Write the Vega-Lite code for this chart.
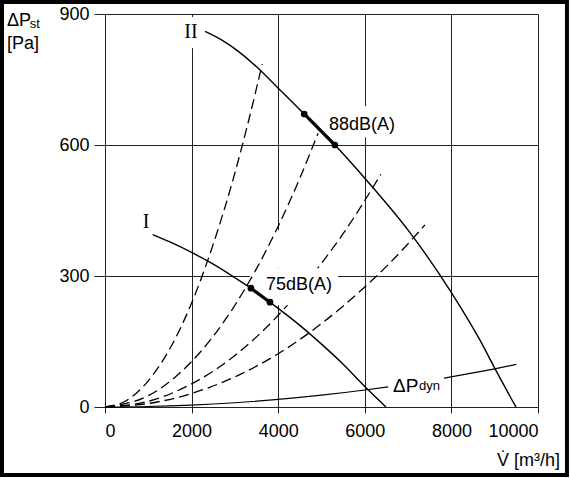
{
  "$schema": "https://vega.github.io/schema/vega-lite/v6.json",
  "width": 433,
  "height": 393,
  "autosize": {"type": "none"},
  "padding": {"left": 105, "top": 14, "right": 32, "bottom": 71},
  "background": "white",
  "data": {"values": [{}]},
  "config": {
    "view": {"stroke": null},
    "font": "Liberation Sans",
    "axis": {
      "grid": true,
      "gridColor": "#222",
      "gridWidth": 1,
      "gridOpacity": 1,
      "domainColor": "#222",
      "domainWidth": 1,
      "tickColor": "#222",
      "tickWidth": 1,
      "labelColor": "black",
      "labelFont": "Liberation Sans",
      "labelFontSize": 18
    },
    "axisX": {"tickSize": 6, "labelPadding": 9},
    "axisY": {"tickSize": 11, "labelPadding": 5}
  },
  "datasets": {
    "fan": [
      {"curve": "I", "V": 1100, "P": 395},
      {"curve": "I", "V": 1500, "P": 378},
      {"curve": "I", "V": 2000, "P": 354},
      {"curve": "I", "V": 2500, "P": 327},
      {"curve": "I", "V": 3000, "P": 296},
      {"curve": "I", "V": 3370, "P": 272},
      {"curve": "I", "V": 3810, "P": 240},
      {"curve": "I", "V": 4500, "P": 187},
      {"curve": "I", "V": 5000, "P": 144},
      {"curve": "I", "V": 5500, "P": 98},
      {"curve": "I", "V": 6000, "P": 47},
      {"curve": "I", "V": 6490, "P": 0},
      {"curve": "II", "V": 2310, "P": 860},
      {"curve": "II", "V": 2700, "P": 840},
      {"curve": "II", "V": 3070, "P": 815},
      {"curve": "II", "V": 3500, "P": 779},
      {"curve": "II", "V": 4000, "P": 730},
      {"curve": "II", "V": 4600, "P": 671},
      {"curve": "II", "V": 5310, "P": 600},
      {"curve": "II", "V": 6000, "P": 524},
      {"curve": "II", "V": 7000, "P": 405},
      {"curve": "II", "V": 8000, "P": 262},
      {"curve": "II", "V": 8660, "P": 153},
      {"curve": "II", "V": 9000, "P": 89},
      {"curve": "II", "V": 9490, "P": 0}
    ],
    "dyn": [
      {"seg": "a", "V": 0, "P": 0},
      {"seg": "a", "V": 1000, "P": 1.1},
      {"seg": "a", "V": 2000, "P": 4.3},
      {"seg": "a", "V": 3000, "P": 9.7},
      {"seg": "a", "V": 4000, "P": 17.3},
      {"seg": "a", "V": 5000, "P": 27},
      {"seg": "a", "V": 6000, "P": 38.9},
      {"seg": "a", "V": 6540, "P": 46.2},
      {"seg": "b", "V": 7830, "P": 66.2},
      {"seg": "b", "V": 8500, "P": 78},
      {"seg": "b", "V": 9000, "P": 87.5},
      {"seg": "b", "V": 9500, "P": 97.5}
    ],
    "system": [
      {"line": "d1", "V": 0, "P": 0},
      {"line": "d1", "V": 500, "P": 15},
      {"line": "d1", "V": 1000, "P": 60},
      {"line": "d1", "V": 1500, "P": 134},
      {"line": "d1", "V": 2000, "P": 238},
      {"line": "d1", "V": 2500, "P": 373},
      {"line": "d1", "V": 3000, "P": 536},
      {"line": "d1", "V": 3300, "P": 649},
      {"line": "d1", "V": 3630, "P": 785},
      {"line": "d2", "V": 0, "P": 0},
      {"line": "d2", "V": 1000, "P": 26},
      {"line": "d2", "V": 2000, "P": 104},
      {"line": "d2", "V": 2500, "P": 162},
      {"line": "d2", "V": 3000, "P": 233},
      {"line": "d2", "V": 3500, "P": 317},
      {"line": "d2", "V": 4000, "P": 414},
      {"line": "d2", "V": 4500, "P": 524},
      {"line": "d2", "V": 4920, "P": 627},
      {"line": "d3", "V": 0, "P": 0},
      {"line": "d3", "V": 1000, "P": 13},
      {"line": "d3", "V": 2000, "P": 53},
      {"line": "d3", "V": 3000, "P": 118},
      {"line": "d3", "V": 4000, "P": 210},
      {"line": "d3", "V": 4500, "P": 266},
      {"line": "d3", "V": 5000, "P": 329},
      {"line": "d3", "V": 5500, "P": 397},
      {"line": "d3", "V": 6000, "P": 473},
      {"line": "d3", "V": 6370, "P": 533},
      {"line": "d4", "V": 0, "P": 0},
      {"line": "d4", "V": 1000, "P": 8},
      {"line": "d4", "V": 2000, "P": 31},
      {"line": "d4", "V": 3000, "P": 69},
      {"line": "d4", "V": 4000, "P": 122},
      {"line": "d4", "V": 5000, "P": 191},
      {"line": "d4", "V": 6000, "P": 275},
      {"line": "d4", "V": 6500, "P": 322},
      {"line": "d4", "V": 7000, "P": 374},
      {"line": "d4", "V": 7390, "P": 417}
    ],
    "noise": [
      {"level": "88dB(A)", "V": 4600, "P": 671},
      {"level": "88dB(A)", "V": 5310, "P": 600},
      {"level": "75dB(A)", "V": 3370, "P": 272},
      {"level": "75dB(A)", "V": 3810, "P": 240}
    ]
  },
  "layer": [
    {
      "data": {"name": "system"},
      "transform": [{"filter": "datum.line == 'd3' || datum.line == 'd4'"}],
      "mark": {"type": "line", "interpolate": "monotone", "color": "black", "strokeWidth": 1.3, "strokeDash": [10, 5]},
      "encoding": {
        "x": {"field": "V", "type": "quantitative", "scale": {"domain": [0, 10000], "nice": false, "zero": false}, "axis": {"values": [0, 2000, 4000, 6000, 8000, 10000], "format": "d", "title": null}},
        "y": {"field": "P", "type": "quantitative", "scale": {"domain": [0, 900], "nice": false, "zero": false}, "axis": {"values": [0, 300, 600, 900], "format": "d", "title": null}},
        "detail": {"field": "line"}
      }
    },
    {
      "mark": {"type": "rect", "color": "white", "clip": false},
      "encoding": {
        "x": {"datum": 1850, "type": "quantitative", "axis": {"values": [0, 2000, 4000, 6000, 8000, 10000], "format": "d", "title": null}},
        "x2": {"datum": 2130},
        "y": {"datum": 893, "type": "quantitative", "axis": {"values": [0, 300, 600, 900], "format": "d", "title": null}},
        "y2": {"datum": 822}
      }
    },
    {
      "mark": {"type": "rect", "color": "white", "clip": false},
      "encoding": {
        "x": {"datum": 5010, "type": "quantitative", "axis": {"values": [0, 2000, 4000, 6000, 8000, 10000], "format": "d", "title": null}},
        "x2": {"datum": 6860},
        "y": {"datum": 689, "type": "quantitative", "axis": {"values": [0, 300, 600, 900], "format": "d", "title": null}},
        "y2": {"datum": 618}
      }
    },
    {
      "mark": {"type": "rect", "color": "white", "clip": false},
      "encoding": {
        "x": {"datum": 3348, "type": "quantitative", "axis": {"values": [0, 2000, 4000, 6000, 8000, 10000], "format": "d", "title": null}},
        "x2": {"datum": 5381},
        "y": {"datum": 318, "type": "quantitative", "axis": {"values": [0, 300, 600, 900], "format": "d", "title": null}},
        "y2": {"datum": 233}
      }
    },
    {
      "mark": {"type": "rect", "color": "white", "clip": false},
      "encoding": {
        "x": {"datum": 3900, "type": "quantitative", "axis": {"values": [0, 2000, 4000, 6000, 8000, 10000], "format": "d", "title": null}},
        "x2": {"datum": 4085},
        "y": {"datum": 405, "type": "quantitative", "axis": {"values": [0, 300, 600, 900], "format": "d", "title": null}},
        "y2": {"datum": 318}
      }
    },
    {
      "data": {"name": "system"},
      "transform": [{"filter": "datum.line == 'd1' || datum.line == 'd2'"}],
      "mark": {"type": "line", "interpolate": "monotone", "color": "black", "strokeWidth": 1.3, "strokeDash": [10, 5]},
      "encoding": {
        "x": {"field": "V", "type": "quantitative", "axis": {"values": [0, 2000, 4000, 6000, 8000, 10000], "format": "d", "title": null}},
        "y": {"field": "P", "type": "quantitative", "axis": {"values": [0, 300, 600, 900], "format": "d", "title": null}},
        "detail": {"field": "line"}
      }
    },
    {
      "data": {"name": "fan"},
      "mark": {"type": "line", "interpolate": "monotone", "color": "black", "strokeWidth": 1.4},
      "encoding": {
        "x": {"field": "V", "type": "quantitative", "axis": {"values": [0, 2000, 4000, 6000, 8000, 10000], "format": "d", "title": null}},
        "y": {"field": "P", "type": "quantitative", "axis": {"values": [0, 300, 600, 900], "format": "d", "title": null}},
        "detail": {"field": "curve"}
      }
    },
    {
      "data": {"name": "dyn"},
      "mark": {"type": "line", "interpolate": "monotone", "color": "black", "strokeWidth": 1.2},
      "encoding": {
        "x": {"field": "V", "type": "quantitative", "axis": {"values": [0, 2000, 4000, 6000, 8000, 10000], "format": "d", "title": null}},
        "y": {"field": "P", "type": "quantitative", "axis": {"values": [0, 300, 600, 900], "format": "d", "title": null}},
        "detail": {"field": "seg"}
      }
    },
    {
      "data": {"name": "noise"},
      "mark": {"type": "line", "color": "black", "strokeWidth": 3.2},
      "encoding": {
        "x": {"field": "V", "type": "quantitative", "axis": {"values": [0, 2000, 4000, 6000, 8000, 10000], "format": "d", "title": null}},
        "y": {"field": "P", "type": "quantitative", "axis": {"values": [0, 300, 600, 900], "format": "d", "title": null}},
        "detail": {"field": "level"}
      }
    },
    {
      "data": {"name": "noise"},
      "mark": {"type": "circle", "color": "black", "opacity": 1, "size": 45},
      "encoding": {
        "x": {"field": "V", "type": "quantitative", "axis": {"values": [0, 2000, 4000, 6000, 8000, 10000], "format": "d", "title": null}},
        "y": {"field": "P", "type": "quantitative", "axis": {"values": [0, 300, 600, 900], "format": "d", "title": null}}
      }
    },
    {
      "mark": {"type": "text", "font": "Liberation Serif", "fontSize": 20, "align": "center", "baseline": "middle", "color": "black"},
      "encoding": {
        "x": {"datum": 1986, "type": "quantitative", "axis": {"values": [0, 2000, 4000, 6000, 8000, 10000], "format": "d", "title": null}},
        "y": {"datum": 858, "type": "quantitative", "axis": {"values": [0, 300, 600, 900], "format": "d", "title": null}},
        "text": {"value": "II"}
      }
    },
    {
      "mark": {"type": "text", "font": "Liberation Serif", "fontSize": 20, "align": "center", "baseline": "middle", "color": "black"},
      "encoding": {
        "x": {"datum": 947, "type": "quantitative", "axis": {"values": [0, 2000, 4000, 6000, 8000, 10000], "format": "d", "title": null}},
        "y": {"datum": 424, "type": "quantitative", "axis": {"values": [0, 300, 600, 900], "format": "d", "title": null}},
        "text": {"value": "I"}
      }
    },
    {
      "mark": {"type": "text", "fontSize": 18, "align": "left", "baseline": "alphabetic", "color": "black"},
      "encoding": {
        "x": {"datum": 5173, "type": "quantitative", "axis": {"values": [0, 2000, 4000, 6000, 8000, 10000], "format": "d", "title": null}},
        "y": {"datum": 634, "type": "quantitative", "axis": {"values": [0, 300, 600, 900], "format": "d", "title": null}},
        "text": {"value": "88dB(A)"}
      }
    },
    {
      "mark": {"type": "text", "fontSize": 18, "align": "left", "baseline": "alphabetic", "color": "black"},
      "encoding": {
        "x": {"datum": 3718, "type": "quantitative", "axis": {"values": [0, 2000, 4000, 6000, 8000, 10000], "format": "d", "title": null}},
        "y": {"datum": 268, "type": "quantitative", "axis": {"values": [0, 300, 600, 900], "format": "d", "title": null}},
        "text": {"value": "75dB(A)"}
      }
    },
    {
      "mark": {"type": "text", "fontSize": 19, "align": "left", "baseline": "alphabetic", "color": "black"},
      "encoding": {
        "x": {"datum": 6651, "type": "quantitative", "axis": {"values": [0, 2000, 4000, 6000, 8000, 10000], "format": "d", "title": null}},
        "y": {"datum": 34, "type": "quantitative", "axis": {"values": [0, 300, 600, 900], "format": "d", "title": null}},
        "text": {"value": "ΔP"}
      }
    },
    {
      "mark": {"type": "text", "fontSize": 13, "align": "left", "baseline": "alphabetic", "color": "black"},
      "encoding": {
        "x": {"datum": 7250, "type": "quantitative", "axis": {"values": [0, 2000, 4000, 6000, 8000, 10000], "format": "d", "title": null}},
        "y": {"datum": 39, "type": "quantitative", "axis": {"values": [0, 300, 600, 900], "format": "d", "title": null}},
        "text": {"value": "dyn"}
      }
    },
    {
      "mark": {"type": "text", "fontSize": 18, "align": "left", "baseline": "alphabetic", "color": "black"},
      "encoding": {
        "x": {"datum": -2263, "type": "quantitative", "axis": {"values": [0, 2000, 4000, 6000, 8000, 10000], "format": "d", "title": null}},
        "y": {"datum": 872, "type": "quantitative", "axis": {"values": [0, 300, 600, 900], "format": "d", "title": null}},
        "text": {"value": "ΔP"}
      }
    },
    {
      "mark": {"type": "text", "fontSize": 13, "align": "left", "baseline": "alphabetic", "color": "black"},
      "encoding": {
        "x": {"datum": -1740, "type": "quantitative", "axis": {"values": [0, 2000, 4000, 6000, 8000, 10000], "format": "d", "title": null}},
        "y": {"datum": 869, "type": "quantitative", "axis": {"values": [0, 300, 600, 900], "format": "d", "title": null}},
        "text": {"value": "st"}
      }
    },
    {
      "mark": {"type": "text", "fontSize": 18, "align": "left", "baseline": "alphabetic", "color": "black"},
      "encoding": {
        "x": {"datum": -2263, "type": "quantitative", "axis": {"values": [0, 2000, 4000, 6000, 8000, 10000], "format": "d", "title": null}},
        "y": {"datum": 820, "type": "quantitative", "axis": {"values": [0, 300, 600, 900], "format": "d", "title": null}},
        "text": {"value": "[Pa]"}
      }
    },
    {
      "mark": {"type": "text", "fontSize": 18, "align": "right", "baseline": "alphabetic", "color": "black"},
      "encoding": {
        "x": {"datum": 10508, "type": "quantitative", "axis": {"values": [0, 2000, 4000, 6000, 8000, 10000], "format": "d", "title": null}},
        "y": {"datum": -135, "type": "quantitative", "axis": {"values": [0, 300, 600, 900], "format": "d", "title": null}},
        "text": {"value": "V̇ [m³/h]"}
      }
    },
    {
      "mark": {"type": "rect", "filled": false, "color": "black", "strokeWidth": 4, "clip": false},
      "encoding": {
        "x": {"datum": -2379, "type": "quantitative", "axis": {"values": [0, 2000, 4000, 6000, 8000, 10000], "format": "d", "title": null}},
        "x2": {"datum": 10669},
        "y": {"datum": 927.5, "type": "quantitative", "axis": {"values": [0, 300, 600, 900], "format": "d", "title": null}},
        "y2": {"datum": -155.7}
      }
    }
  ]
}
